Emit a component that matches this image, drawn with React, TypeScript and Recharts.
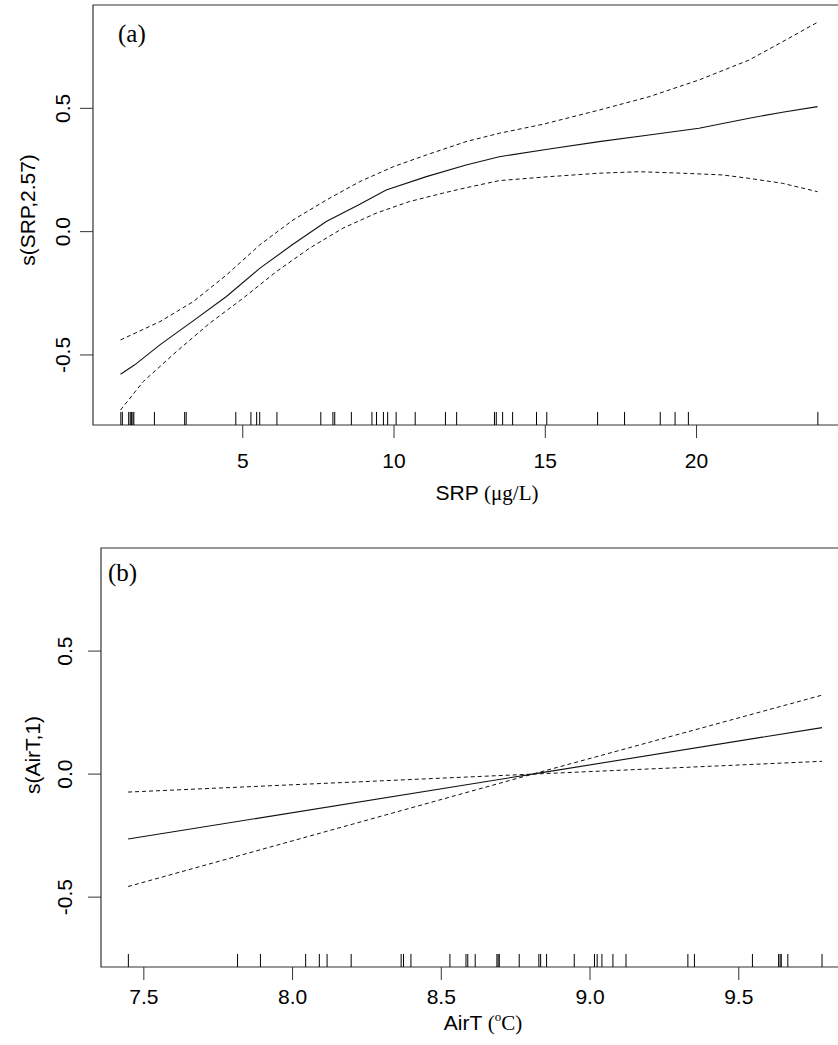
import React from "react";
import { ComposedChart, Line, XAxis, YAxis, ReferenceLine, ReferenceArea } from "recharts";

// ---------- Panel (a): SRP ----------
const srpFitX = [0.96, 1.43, 2.26, 3.36, 4.46, 5.56, 6.66, 7.76, 8.87, 9.74, 11.07, 12.38, 13.48, 15.13, 16.78, 18.43, 20.08, 21.74, 22.84, 24.0];
const srpFitY = [-0.578, -0.54, -0.459, -0.362, -0.263, -0.149, -0.051, 0.041, 0.111, 0.169, 0.223, 0.27, 0.304, 0.335, 0.365, 0.392, 0.419, 0.46, 0.484, 0.507];
const srpUpperX = [0.96, 2.26, 3.36, 4.46, 5.56, 6.66, 7.76, 8.87, 9.97, 11.07, 12.38, 13.48, 14.91, 16.78, 18.43, 20.08, 21.74, 22.84, 24.0];
const srpUpperY = [-0.439, -0.365, -0.284, -0.176, -0.054, 0.047, 0.128, 0.203, 0.263, 0.311, 0.365, 0.399, 0.435, 0.493, 0.547, 0.615, 0.696, 0.77, 0.849];
const srpLowerX = [0.96, 1.71, 2.81, 3.91, 5.01, 6.11, 7.21, 8.31, 9.41, 10.51, 11.61, 12.38, 13.48, 15.13, 16.78, 18.1, 19.53, 20.85, 21.74, 22.84, 24.0];
const srpLowerY = [-0.723, -0.608, -0.486, -0.371, -0.27, -0.162, -0.067, 0.014, 0.075, 0.122, 0.156, 0.178, 0.207, 0.223, 0.237, 0.243, 0.237, 0.23, 0.216, 0.196, 0.162];
const srpRug = [0.97, 1.02, 1.23, 1.28, 1.32, 1.37, 1.4, 2.08, 3.08, 3.13, 4.77, 5.27, 5.46, 5.56, 6.13, 7.58, 7.98, 8.04, 8.59, 9.27, 9.42, 9.65, 9.79, 10.07, 10.7, 11.7, 12.07, 13.32, 13.38, 13.59, 13.92, 14.71, 15.05, 16.73, 17.62, 18.8, 19.29, 19.73, 24.01];
const srpTicks = [5, 10, 15, 20];
const srpDomain = [0.05, 24.94];

// ---------- Panel (b): AirT ----------
const airFitX = [7.447, 8.807, 9.78];
const airFitY = [-0.264, 0, 0.189];
const airUpperX = [7.447, 8.807, 9.78];
const airUpperY = [-0.073, 0, 0.321];
const airLowerX = [7.447, 8.807, 9.78];
const airLowerY = [-0.457, 0, 0.052];
const airRug = [7.448, 7.815, 7.892, 8.044, 8.09, 8.116, 8.197, 8.365, 8.373, 8.398, 8.529, 8.583, 8.589, 8.614, 8.687, 8.691, 8.695, 8.762, 8.828, 8.834, 8.854, 8.947, 9.015, 9.024, 9.04, 9.077, 9.121, 9.329, 9.351, 9.546, 9.634, 9.639, 9.643, 9.665, 9.78];
const airTicks = [7.5, 8.0, 8.5, 9.0, 9.5];
const airDomain = [7.356, 9.874];

// ---------- shared ----------
const yTicks = [-0.5, 0, 0.5];
const yDomain = [-0.784, 0.919];
const rugLen = 0.053;

const SANS = "'Liberation Sans', Arial, sans-serif";
const SERIF = "'Liberation Serif', 'Times New Roman', serif";
const LINE = "#111";
const BOX = "#333";

const toRows = (xs: number[], ys: number[]) => xs.map((x, i) => ({ x, y: ys[i] }));

const makeXTick = (dy: number, digits: number) => (props: any) => {
  const { x, y, payload } = props;
  return (
    <text x={x} y={y + dy} textAnchor="middle" fontFamily={SANS} fontSize={21} fill="#000">
      {digits > 0 ? Number(payload.value).toFixed(digits) : String(payload.value)}
    </text>
  );
};

const makeYTick = (dx: number) => (props: any) => {
  const { x, y, payload } = props;
  const bx = x - dx;
  return (
    <text
      x={bx}
      y={y}
      transform={`rotate(-90, ${bx}, ${y})`}
      textAnchor="middle"
      fontFamily={SANS}
      fontSize={21}
      fill="#000"
    >
      {Number(payload.value).toFixed(1)}
    </text>
  );
};

type PanelProps = {
  top: number;
  width: number;
  height: number;
  marginTop: number;
  yAxisWidth: number;
  xAxisHeight: number;
  domain: number[];
  ticks: number[];
  fit: { x: number; y: number }[];
  upper: { x: number; y: number }[];
  lower: { x: number; y: number }[];
  rug: number[];
  xTick: (p: any) => any;
  yTick: (p: any) => any;
  xTitle: (p: any) => any;
  yTitle: (p: any) => any;
  tag: string;
  tagX: number;
  tagY: number;
};

function Panel(p: PanelProps) {
  return (
    <div style={{ position: "absolute", left: 0, top: p.top, width: p.width, height: p.height }}>
      <ComposedChart
        width={p.width}
        height={p.height}
        margin={{ top: p.marginTop, right: 14, bottom: 0, left: 0 }}
      >
        <XAxis
          type="number"
          dataKey="x"
          domain={p.domain}
          allowDataOverflow
          ticks={p.ticks}
          interval={0}
          height={p.xAxisHeight}
          axisLine={false}
          tickLine={{ stroke: BOX, strokeWidth: 1 }}
          tickSize={13}
          tickMargin={0}
          tick={p.xTick}
          label={{ content: p.xTitle }}
        />
        <YAxis
          type="number"
          dataKey="y"
          domain={yDomain}
          allowDataOverflow
          ticks={yTicks}
          interval={0}
          width={p.yAxisWidth}
          axisLine={false}
          tickLine={{ stroke: BOX, strokeWidth: 1 }}
          tickSize={13}
          tickMargin={0}
          tick={p.yTick}
          label={{ content: p.yTitle }}
        />
        <ReferenceArea
          x1={p.domain[0]}
          x2={p.domain[1]}
          y1={yDomain[0]}
          y2={yDomain[1]}
          fill="none"
          stroke={BOX}
          strokeWidth={1.2}
          ifOverflow="visible"
          label={{
            content: () => (
              <text x={p.tagX} y={p.tagY} fontFamily={SERIF} fontSize={25} fill="#000">
                {p.tag}
              </text>
            ),
          }}
        />
        {p.rug.map((v, i) => (
          <ReferenceLine
            key={"r" + i}
            segment={[
              { x: v, y: yDomain[0] },
              { x: v, y: yDomain[0] + rugLen },
            ]}
            stroke="#000"
            strokeWidth={1}
            ifOverflow="visible"
          />
        ))}
        <Line
          data={p.upper}
          dataKey="y"
          type="linear"
          stroke={LINE}
          strokeWidth={1}
          strokeDasharray="4 3"
          dot={false}
          activeDot={false}
          isAnimationActive={false}
        />
        <Line
          data={p.lower}
          dataKey="y"
          type="linear"
          stroke={LINE}
          strokeWidth={1}
          strokeDasharray="4 3"
          dot={false}
          activeDot={false}
          isAnimationActive={false}
        />
        <Line
          data={p.fit}
          dataKey="y"
          type="linear"
          stroke={LINE}
          strokeWidth={1.1}
          dot={false}
          activeDot={false}
          isAnimationActive={false}
        />
      </ComposedChart>
    </div>
  );
}

const srpXTitle = () => (
  <text x={487} y={500} textAnchor="middle" fontSize={21} fill="#000">
    <tspan fontFamily={SANS}>SRP </tspan>
    <tspan fontFamily={SERIF}>(μg/L)</tspan>
  </text>
);
const srpYTitle = () => (
  <text
    x={35}
    y={210}
    transform="rotate(-90, 35, 210)"
    textAnchor="middle"
    fontFamily={SANS}
    fontSize={21}
    fill="#000"
  >
    s(SRP,2.57)
  </text>
);
const airXTitle = () => (
  <text x={483} y={530} textAnchor="middle" fontSize={21} fill="#000">
    <tspan fontFamily={SANS}>AirT </tspan>
    <tspan fontFamily={SERIF}>(</tspan>
    <tspan fontFamily={SERIF} fontSize={13} dy={-9}>o</tspan>
    <tspan fontFamily={SERIF} dy={9}>C)</tspan>
  </text>
);
const airYTitle = () => (
  <text
    x={40}
    y={255}
    transform="rotate(-90, 40, 255)"
    textAnchor="middle"
    fontFamily={SANS}
    fontSize={21}
    fill="#000"
  >
    s(AirT,1)
  </text>
);

export default function App() {
  return (
    <div
      style={{
        position: "absolute",
        left: 0,
        top: 0,
        width: 838,
        height: 1045,
        overflow: "hidden",
        background: "#fff",
      }}
    >
      <Panel
        top={0}
        width={860}
        height={505}
        marginTop={5}
        yAxisWidth={93}
        xAxisHeight={80}
        domain={srpDomain}
        ticks={srpTicks}
        fit={toRows(srpFitX, srpFitY)}
        upper={toRows(srpUpperX, srpUpperY)}
        lower={toRows(srpLowerX, srpLowerY)}
        rug={srpRug}
        xTick={makeXTick(30, 0)}
        yTick={makeYTick(10)}
        xTitle={srpXTitle}
        yTitle={srpYTitle}
        tag="(a)"
        tagX={118}
        tagY={42}
      />
      <Panel
        top={500}
        width={864}
        height={545}
        marginTop={48}
        yAxisWidth={101}
        xAxisHeight={78}
        domain={airDomain}
        ticks={airTicks}
        fit={toRows(airFitX, airFitY)}
        upper={toRows(airUpperX, airUpperY)}
        lower={toRows(airLowerX, airLowerY)}
        rug={airRug}
        xTick={makeXTick(24, 1)}
        yTick={makeYTick(16)}
        xTitle={airXTitle}
        yTitle={airYTitle}
        tag="(b)"
        tagX={108}
        tagY={81}
      />
    </div>
  );
}
